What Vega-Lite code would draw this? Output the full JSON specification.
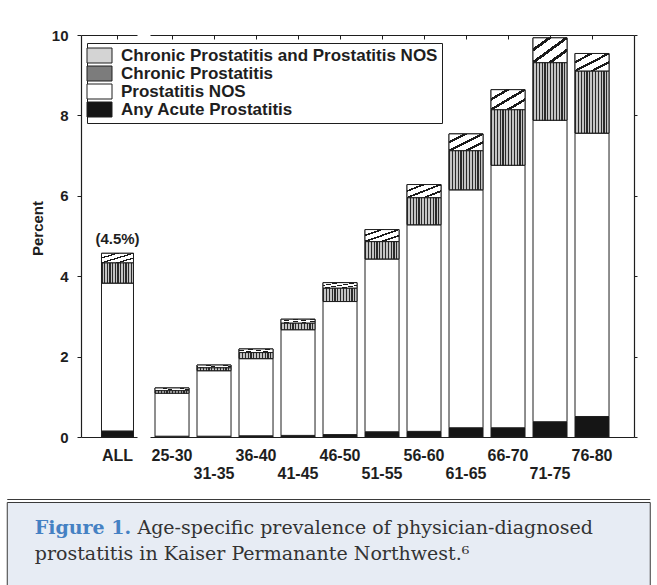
{
  "$schema": "https://vega.github.io/schema/vega-lite/v6.json",
  "padding": {"top": 28, "left": 0, "right": 0, "bottom": 0},
  "background": "#ffffff",
  "config": {
    "view": {"stroke": null},
    "font": "Liberation Sans",
    "axis": {"labelFont": "Liberation Sans", "labelFontWeight": "bold", "labelColor": "#1e1e1e", "domainColor": "#1e1e1e", "tickColor": "#1e1e1e", "grid": false, "titleFont": "Liberation Sans", "titleFontWeight": "bold", "titleColor": "#1e1e1e", "domainWidth": 1.2},
    "legend": {"orient": "none", "legendX": 87, "legendY": 8, "direction": "vertical", "strokeColor": "#1e1e1e", "fillColor": "#ffffff", "padding": 4, "labelFont": "Liberation Sans", "labelFontWeight": "bold", "labelFontSize": 17, "labelColor": "#1e1e1e", "symbolType": "M-1.5625,-0.9375H1.5625V0.9375H-1.5625Z", "symbolSize": 256, "symbolStrokeColor": "#1e1e1e", "symbolStrokeWidth": 1, "rowPadding": -1.5, "labelOffset": 13, "labelLimit": 400}
  },
  "datasets": {
    "prev": [
      {"group": "ALL", "type": "Any Acute Prostatitis", "pct": 0.15},
      {"group": "ALL", "type": "Prostatitis NOS", "pct": 3.68},
      {"group": "ALL", "type": "Chronic Prostatitis", "pct": 0.50},
      {"group": "ALL", "type": "Chronic Prostatitis and Prostatitis NOS", "pct": 0.24},
      {"group": "25-30", "type": "Any Acute Prostatitis", "pct": 0.02},
      {"group": "25-30", "type": "Prostatitis NOS", "pct": 1.07},
      {"group": "25-30", "type": "Chronic Prostatitis", "pct": 0.06},
      {"group": "25-30", "type": "Chronic Prostatitis and Prostatitis NOS", "pct": 0.07},
      {"group": "31-35", "type": "Any Acute Prostatitis", "pct": 0.02},
      {"group": "31-35", "type": "Prostatitis NOS", "pct": 1.63},
      {"group": "31-35", "type": "Chronic Prostatitis", "pct": 0.07},
      {"group": "31-35", "type": "Chronic Prostatitis and Prostatitis NOS", "pct": 0.07},
      {"group": "36-40", "type": "Any Acute Prostatitis", "pct": 0.03},
      {"group": "36-40", "type": "Prostatitis NOS", "pct": 1.92},
      {"group": "36-40", "type": "Chronic Prostatitis", "pct": 0.15},
      {"group": "36-40", "type": "Chronic Prostatitis and Prostatitis NOS", "pct": 0.09},
      {"group": "41-45", "type": "Any Acute Prostatitis", "pct": 0.04},
      {"group": "41-45", "type": "Prostatitis NOS", "pct": 2.63},
      {"group": "41-45", "type": "Chronic Prostatitis", "pct": 0.16},
      {"group": "41-45", "type": "Chronic Prostatitis and Prostatitis NOS", "pct": 0.10},
      {"group": "46-50", "type": "Any Acute Prostatitis", "pct": 0.06},
      {"group": "46-50", "type": "Prostatitis NOS", "pct": 3.31},
      {"group": "46-50", "type": "Chronic Prostatitis", "pct": 0.33},
      {"group": "46-50", "type": "Chronic Prostatitis and Prostatitis NOS", "pct": 0.14},
      {"group": "51-55", "type": "Any Acute Prostatitis", "pct": 0.13},
      {"group": "51-55", "type": "Prostatitis NOS", "pct": 4.30},
      {"group": "51-55", "type": "Chronic Prostatitis", "pct": 0.43},
      {"group": "51-55", "type": "Chronic Prostatitis and Prostatitis NOS", "pct": 0.30},
      {"group": "56-60", "type": "Any Acute Prostatitis", "pct": 0.14},
      {"group": "56-60", "type": "Prostatitis NOS", "pct": 5.14},
      {"group": "56-60", "type": "Chronic Prostatitis", "pct": 0.67},
      {"group": "56-60", "type": "Chronic Prostatitis and Prostatitis NOS", "pct": 0.33},
      {"group": "61-65", "type": "Any Acute Prostatitis", "pct": 0.23},
      {"group": "61-65", "type": "Prostatitis NOS", "pct": 5.92},
      {"group": "61-65", "type": "Chronic Prostatitis", "pct": 0.97},
      {"group": "61-65", "type": "Chronic Prostatitis and Prostatitis NOS", "pct": 0.42},
      {"group": "66-70", "type": "Any Acute Prostatitis", "pct": 0.23},
      {"group": "66-70", "type": "Prostatitis NOS", "pct": 6.53},
      {"group": "66-70", "type": "Chronic Prostatitis", "pct": 1.38},
      {"group": "66-70", "type": "Chronic Prostatitis and Prostatitis NOS", "pct": 0.50},
      {"group": "71-75", "type": "Any Acute Prostatitis", "pct": 0.38},
      {"group": "71-75", "type": "Prostatitis NOS", "pct": 7.50},
      {"group": "71-75", "type": "Chronic Prostatitis", "pct": 1.43},
      {"group": "71-75", "type": "Chronic Prostatitis and Prostatitis NOS", "pct": 0.62},
      {"group": "76-80", "type": "Any Acute Prostatitis", "pct": 0.51},
      {"group": "76-80", "type": "Prostatitis NOS", "pct": 7.05},
      {"group": "76-80", "type": "Chronic Prostatitis", "pct": 1.54},
      {"group": "76-80", "type": "Chronic Prostatitis and Prostatitis NOS", "pct": 0.44}
    ]
  },
  "vconcat": [
    {
      "hconcat": [
        {"width": 68, "height": 402, "data": {"values": []}, "mark": "point", "encoding": {}},
        {
          "width": 56,
          "height": 402,
          "layer": [
            {
              "data": {"name": "prev"},
              "transform": [
                {"filter": "datum.group === 'ALL'"},
                {"calculate": "indexof(['Chronic Prostatitis and Prostatitis NOS','Chronic Prostatitis','Prostatitis NOS','Any Acute Prostatitis'], datum.type)", "as": "ord"},
                {"stack": "pct", "groupby": ["group"], "sort": [{"field": "ord", "order": "descending"}], "as": ["lo", "hi"]}
              ],
              "mark": {"type": "bar", "stroke": "#1e1e1e", "strokeWidth": 1},
              "encoding": {
                "x": {"field": "group", "type": "nominal", "scale": {"paddingInner": 0, "paddingOuter": 0.375, "align": 0.854}, "axis": {"orient": "bottom", "title": null, "labelAngle": 0, "ticks": false, "tickSize": 0, "labelPadding": 10, "labelFontSize": 16}},
                "y": {"field": "lo", "type": "quantitative", "scale": {"domain": [0, 10], "nice": false}, "axis": {"orient": "left", "title": "Percent", "values": [0, 2, 4, 6, 8, 10], "tickSize": 4, "labelPadding": 9, "labelFontSize": 15, "titleFontSize": 15, "titlePadding": 6, "titleY": 193}},
                "y2": {"field": "hi"},
                "fill": {
                  "field": "type", "type": "nominal",
                  "scale": {
                    "domain": ["Chronic Prostatitis and Prostatitis NOS", "Chronic Prostatitis", "Prostatitis NOS", "Any Acute Prostatitis"],
                    "range": ["#d4d4d4", "#7c7c7c", "#ffffff", "#151515"]
                  },
                  "legend": {"title": null}
                }
              }
            },
            {
              "data": {"name": "prev"},
              "transform": [
                {"filter": "datum.group === 'ALL'"},
                {"calculate": "indexof(['Chronic Prostatitis and Prostatitis NOS','Chronic Prostatitis','Prostatitis NOS','Any Acute Prostatitis'], datum.type)", "as": "ord"},
                {"stack": "pct", "groupby": ["group"], "sort": [{"field": "ord", "order": "descending"}], "as": ["lo", "hi"]},
                {"filter": "datum.type === 'Chronic Prostatitis and Prostatitis NOS'"}
              ],
              "mark": {"type": "bar", "stroke": "#1e1e1e", "strokeWidth": 1, "fill": {"gradient": "linear", "x1": 0, "y1": 0, "x2": 1, "y2": 1, "stops": [
                {"offset": 0, "color": "#ffffff"}, {"offset": 0.21, "color": "#ffffff"}, {"offset": 0.21, "color": "#1a1a1a"}, {"offset": 0.28, "color": "#1a1a1a"}, {"offset": 0.28, "color": "#ffffff"},
                {"offset": 0.46, "color": "#ffffff"}, {"offset": 0.46, "color": "#1a1a1a"}, {"offset": 0.53, "color": "#1a1a1a"}, {"offset": 0.53, "color": "#ffffff"},
                {"offset": 0.71, "color": "#ffffff"}, {"offset": 0.71, "color": "#1a1a1a"}, {"offset": 0.78, "color": "#1a1a1a"}, {"offset": 0.78, "color": "#ffffff"}, {"offset": 1, "color": "#ffffff"}]}},
              "encoding": {
                "x": {"field": "group", "type": "nominal", "axis": null},
                "y": {"field": "lo", "type": "quantitative", "axis": null},
                "y2": {"field": "hi"}
              }
            },
            {
              "data": {"name": "prev"},
              "transform": [
                {"filter": "datum.group === 'ALL'"},
                {"calculate": "indexof(['Chronic Prostatitis and Prostatitis NOS','Chronic Prostatitis','Prostatitis NOS','Any Acute Prostatitis'], datum.type)", "as": "ord"},
                {"stack": "pct", "groupby": ["group"], "sort": [{"field": "ord", "order": "descending"}], "as": ["lo", "hi"]},
                {"filter": "datum.type === 'Chronic Prostatitis'"}
              ],
              "mark": {"type": "bar", "stroke": "#1e1e1e", "strokeWidth": 1, "fill": {"gradient": "linear", "x1": 0, "y1": 0, "x2": 1, "y2": 0, "stops": [
                {"offset": 0, "color": "#2a2a2a"}, {"offset": 0.035, "color": "#2a2a2a"}, {"offset": 0.035, "color": "#c4c4c4"}, {"offset": 0.0833, "color": "#c4c4c4"},
                {"offset": 0.0833, "color": "#2a2a2a"}, {"offset": 0.1183, "color": "#2a2a2a"}, {"offset": 0.1183, "color": "#c4c4c4"}, {"offset": 0.1667, "color": "#c4c4c4"},
                {"offset": 0.1667, "color": "#2a2a2a"}, {"offset": 0.2017, "color": "#2a2a2a"}, {"offset": 0.2017, "color": "#c4c4c4"}, {"offset": 0.25, "color": "#c4c4c4"},
                {"offset": 0.25, "color": "#2a2a2a"}, {"offset": 0.285, "color": "#2a2a2a"}, {"offset": 0.285, "color": "#c4c4c4"}, {"offset": 0.3333, "color": "#c4c4c4"},
                {"offset": 0.3333, "color": "#2a2a2a"}, {"offset": 0.3683, "color": "#2a2a2a"}, {"offset": 0.3683, "color": "#c4c4c4"}, {"offset": 0.4167, "color": "#c4c4c4"},
                {"offset": 0.4167, "color": "#2a2a2a"}, {"offset": 0.4517, "color": "#2a2a2a"}, {"offset": 0.4517, "color": "#c4c4c4"}, {"offset": 0.5, "color": "#c4c4c4"},
                {"offset": 0.5, "color": "#2a2a2a"}, {"offset": 0.535, "color": "#2a2a2a"}, {"offset": 0.535, "color": "#c4c4c4"}, {"offset": 0.5833, "color": "#c4c4c4"},
                {"offset": 0.5833, "color": "#2a2a2a"}, {"offset": 0.6183, "color": "#2a2a2a"}, {"offset": 0.6183, "color": "#c4c4c4"}, {"offset": 0.6667, "color": "#c4c4c4"},
                {"offset": 0.6667, "color": "#2a2a2a"}, {"offset": 0.7017, "color": "#2a2a2a"}, {"offset": 0.7017, "color": "#c4c4c4"}, {"offset": 0.75, "color": "#c4c4c4"},
                {"offset": 0.75, "color": "#2a2a2a"}, {"offset": 0.785, "color": "#2a2a2a"}, {"offset": 0.785, "color": "#c4c4c4"}, {"offset": 0.8333, "color": "#c4c4c4"},
                {"offset": 0.8333, "color": "#2a2a2a"}, {"offset": 0.8683, "color": "#2a2a2a"}, {"offset": 0.8683, "color": "#c4c4c4"}, {"offset": 0.9167, "color": "#c4c4c4"},
                {"offset": 0.9167, "color": "#2a2a2a"}, {"offset": 0.9517, "color": "#2a2a2a"}, {"offset": 0.9517, "color": "#c4c4c4"}, {"offset": 1, "color": "#c4c4c4"}]}},
              "encoding": {
                "x": {"field": "group", "type": "nominal", "axis": null},
                "y": {"field": "lo", "type": "quantitative", "axis": null},
                "y2": {"field": "hi"}
              }
            },
            {
              "data": {"values": [{"group": "ALL", "label": "(4.5%)", "share": 4.5}]},
              "mark": {"type": "text", "font": "Liberation Sans", "fontWeight": "bold", "fontSize": 15, "dy": -17, "color": "#1e1e1e"},
              "encoding": {
                "x": {"field": "group", "type": "nominal", "axis": {"orient": "top", "title": null, "labels": false, "tickSize": -4}},
                "y": {"field": "share", "type": "quantitative", "axis": null},
                "text": {"field": "label"}
              }
            }
          ],
          "resolve": {"axis": {"x": "independent", "y": "independent"}}
        },
        {
          "width": 484,
          "height": 402,
          "layer": [
            {
              "data": {"name": "prev"},
              "transform": [
                {"filter": "datum.group !== 'ALL'"},
                {"calculate": "indexof(['Chronic Prostatitis and Prostatitis NOS','Chronic Prostatitis','Prostatitis NOS','Any Acute Prostatitis'], datum.type)", "as": "ord"},
                {"stack": "pct", "groupby": ["group"], "sort": [{"field": "ord", "order": "descending"}], "as": ["lo", "hi"]}
              ],
              "mark": {"type": "bar", "stroke": "#1e1e1e", "strokeWidth": 1},
              "encoding": {
                "x": {"field": "group", "type": "nominal", "scale": {"paddingInner": 0.19, "paddingOuter": 0.357, "align": 0.167}, "axis": {"orient": "bottom", "title": null, "labelAngle": 0, "ticks": false, "tickSize": 0, "labelFontSize": 16, "labelOverlap": false, "labelBound": false, "labelPadding": {"condition": {"test": "indexof(['31-35','41-45','51-55','61-65','71-75'], datum.value) >= 0", "value": 28}, "value": 10}}},
                "y": {"field": "lo", "type": "quantitative", "scale": {"domain": [0, 10], "nice": false}, "axis": null},
                "y2": {"field": "hi"},
                "fill": {"condition": [{"test": "datum.type === 'Any Acute Prostatitis'", "value": "#151515"}], "value": "#ffffff"}
              }
            },
            {
              "data": {"name": "prev"},
              "transform": [
                {"filter": "datum.group !== 'ALL'"},
                {"calculate": "indexof(['Chronic Prostatitis and Prostatitis NOS','Chronic Prostatitis','Prostatitis NOS','Any Acute Prostatitis'], datum.type)", "as": "ord"},
                {"stack": "pct", "groupby": ["group"], "sort": [{"field": "ord", "order": "descending"}], "as": ["lo", "hi"]},
                {"filter": "datum.type === 'Chronic Prostatitis and Prostatitis NOS'"}
              ],
              "mark": {"type": "bar", "stroke": "#1e1e1e", "strokeWidth": 1, "fill": {"gradient": "linear", "x1": 0, "y1": 0, "x2": 1, "y2": 1, "stops": [
                {"offset": 0, "color": "#ffffff"}, {"offset": 0.21, "color": "#ffffff"}, {"offset": 0.21, "color": "#1a1a1a"}, {"offset": 0.28, "color": "#1a1a1a"}, {"offset": 0.28, "color": "#ffffff"},
                {"offset": 0.46, "color": "#ffffff"}, {"offset": 0.46, "color": "#1a1a1a"}, {"offset": 0.53, "color": "#1a1a1a"}, {"offset": 0.53, "color": "#ffffff"},
                {"offset": 0.71, "color": "#ffffff"}, {"offset": 0.71, "color": "#1a1a1a"}, {"offset": 0.78, "color": "#1a1a1a"}, {"offset": 0.78, "color": "#ffffff"}, {"offset": 1, "color": "#ffffff"}]}},
              "encoding": {
                "x": {"field": "group", "type": "nominal", "axis": null},
                "y": {"field": "lo", "type": "quantitative", "axis": null},
                "y2": {"field": "hi"}
              }
            },
            {
              "data": {"name": "prev"},
              "transform": [
                {"filter": "datum.group !== 'ALL'"},
                {"calculate": "indexof(['Chronic Prostatitis and Prostatitis NOS','Chronic Prostatitis','Prostatitis NOS','Any Acute Prostatitis'], datum.type)", "as": "ord"},
                {"stack": "pct", "groupby": ["group"], "sort": [{"field": "ord", "order": "descending"}], "as": ["lo", "hi"]},
                {"filter": "datum.type === 'Chronic Prostatitis'"}
              ],
              "mark": {"type": "bar", "stroke": "#1e1e1e", "strokeWidth": 1, "fill": {"gradient": "linear", "x1": 0, "y1": 0, "x2": 1, "y2": 0, "stops": [
                {"offset": 0, "color": "#2a2a2a"}, {"offset": 0.035, "color": "#2a2a2a"}, {"offset": 0.035, "color": "#c4c4c4"}, {"offset": 0.0833, "color": "#c4c4c4"},
                {"offset": 0.0833, "color": "#2a2a2a"}, {"offset": 0.1183, "color": "#2a2a2a"}, {"offset": 0.1183, "color": "#c4c4c4"}, {"offset": 0.1667, "color": "#c4c4c4"},
                {"offset": 0.1667, "color": "#2a2a2a"}, {"offset": 0.2017, "color": "#2a2a2a"}, {"offset": 0.2017, "color": "#c4c4c4"}, {"offset": 0.25, "color": "#c4c4c4"},
                {"offset": 0.25, "color": "#2a2a2a"}, {"offset": 0.285, "color": "#2a2a2a"}, {"offset": 0.285, "color": "#c4c4c4"}, {"offset": 0.3333, "color": "#c4c4c4"},
                {"offset": 0.3333, "color": "#2a2a2a"}, {"offset": 0.3683, "color": "#2a2a2a"}, {"offset": 0.3683, "color": "#c4c4c4"}, {"offset": 0.4167, "color": "#c4c4c4"},
                {"offset": 0.4167, "color": "#2a2a2a"}, {"offset": 0.4517, "color": "#2a2a2a"}, {"offset": 0.4517, "color": "#c4c4c4"}, {"offset": 0.5, "color": "#c4c4c4"},
                {"offset": 0.5, "color": "#2a2a2a"}, {"offset": 0.535, "color": "#2a2a2a"}, {"offset": 0.535, "color": "#c4c4c4"}, {"offset": 0.5833, "color": "#c4c4c4"},
                {"offset": 0.5833, "color": "#2a2a2a"}, {"offset": 0.6183, "color": "#2a2a2a"}, {"offset": 0.6183, "color": "#c4c4c4"}, {"offset": 0.6667, "color": "#c4c4c4"},
                {"offset": 0.6667, "color": "#2a2a2a"}, {"offset": 0.7017, "color": "#2a2a2a"}, {"offset": 0.7017, "color": "#c4c4c4"}, {"offset": 0.75, "color": "#c4c4c4"},
                {"offset": 0.75, "color": "#2a2a2a"}, {"offset": 0.785, "color": "#2a2a2a"}, {"offset": 0.785, "color": "#c4c4c4"}, {"offset": 0.8333, "color": "#c4c4c4"},
                {"offset": 0.8333, "color": "#2a2a2a"}, {"offset": 0.8683, "color": "#2a2a2a"}, {"offset": 0.8683, "color": "#c4c4c4"}, {"offset": 0.9167, "color": "#c4c4c4"},
                {"offset": 0.9167, "color": "#2a2a2a"}, {"offset": 0.9517, "color": "#2a2a2a"}, {"offset": 0.9517, "color": "#c4c4c4"}, {"offset": 1, "color": "#c4c4c4"}]}},
              "encoding": {
                "x": {"field": "group", "type": "nominal", "axis": null},
                "y": {"field": "lo", "type": "quantitative", "axis": null},
                "y2": {"field": "hi"}
              }
            },
            {
              "data": {"name": "prev"},
              "transform": [{"filter": "datum.group !== 'ALL'"}],
              "mark": {"type": "point", "opacity": 0},
              "encoding": {
                "x": {"field": "group", "type": "nominal", "axis": {"orient": "top", "title": null, "labels": false, "tickSize": -4}},
                "y": {"field": "pct", "type": "quantitative", "axis": {"orient": "right", "title": null, "labels": false, "values": [0, 2, 4, 6, 8, 10], "tickSize": 3}}
              }
            }
          ],
          "resolve": {"axis": {"x": "independent", "y": "independent"}}
        },
        {"width": 10, "height": 402, "data": {"values": []}, "mark": "point", "encoding": {}}
      ],
      "spacing": 13,
      "bounds": "flush"
    },
    {
      "width": 643,
      "height": 84,
      "view": {"fill": "#e7ecf4", "stroke": "#3a3a3a", "strokeWidth": 1},
      "data": {"values": [{"k": 0}]},
      "mark": {"type": "text", "text": ""},
      "encoding": {
        "x": {"datum": 0, "type": "quantitative", "scale": {"domain": [0, 1]}, "axis": {"orient": "top", "offset": 3, "ticks": false, "labels": false, "title": null, "domainColor": "#3a3a3a", "domainWidth": 1}}
      },
      "title": {
        "text": "Figure 1.",
        "subtitle": ["\u200b\u00a0\u00a0\u00a0\u00a0\u00a0\u00a0\u00a0\u00a0\u00a0\u00a0\u00a0\u00a0\u00a0\u00a0\u00a0\u00a0\u00a0Age-specific prevalence of physician-diagnosed", "prostatitis in Kaiser Permanante Northwest.\u2076"],
        "orient": "bottom", "anchor": "start", "frame": "group", "offset": -67, "dx": 28, "baseline": "top",
        "font": "DejaVu Serif", "fontSize": 19, "fontWeight": "bold", "color": "#4581c3",
        "subtitleFont": "DejaVu Serif", "subtitleFontSize": 19, "subtitleFontWeight": "normal", "subtitleColor": "#333333", "subtitlePadding": -19, "subtitleLineHeight": 26
      }
    }
  ],
  "spacing": 17,
  "center": true
}
